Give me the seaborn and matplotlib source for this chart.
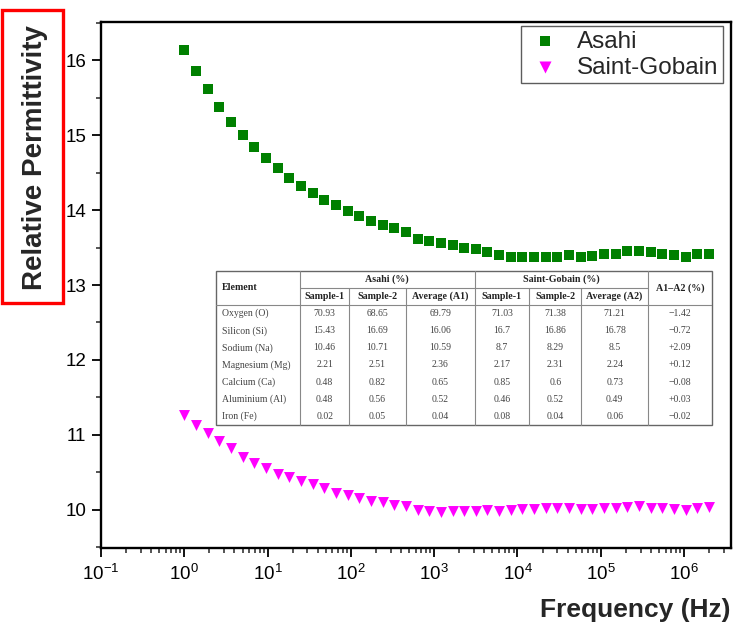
import matplotlib
matplotlib.use("Agg")
import matplotlib.pyplot as plt
import seaborn as sns
import pandas as pd
from matplotlib.patches import Rectangle
from matplotlib.ticker import LogLocator, MultipleLocator

# ---------------- data ----------------
freq_hz = [1, 1.38, 1.905, 2.63, 3.631, 5.012, 6.918, 9.55, 13.18, 18.2,
           25.12, 34.67, 47.86, 66.07, 91.2, 125.9, 173.8, 239.9, 331.1, 457.1,
           631.0, 871.0, 1202, 1660, 2291, 3162, 4365, 6026, 8318, 11482,
           15849, 21878, 30200, 41687, 57544, 79433, 109648, 151356, 208930, 288403,
           398107, 549541, 758578, 1047129, 1445440, 1995262]

asahi = [16.13, 15.85, 15.61, 15.38, 15.18, 15.00, 14.84, 14.69, 14.56, 14.43,
         14.32, 14.23, 14.14, 14.07, 13.99, 13.92, 13.86, 13.80, 13.76, 13.71,
         13.62, 13.59, 13.56, 13.53, 13.50, 13.48, 13.44, 13.40, 13.37, 13.37,
         13.37, 13.37, 13.38, 13.40, 13.37, 13.39, 13.41, 13.42, 13.45, 13.45,
         13.44, 13.42, 13.40, 13.38, 13.42, 13.42]

saint_gobain = [11.26, 11.13, 11.02, 10.92, 10.82, 10.70, 10.62, 10.56, 10.48, 10.44,
                10.38, 10.34, 10.29, 10.23, 10.20, 10.16, 10.12, 10.10, 10.07, 10.05,
                10.00, 9.98, 9.97, 9.98, 9.98, 9.99, 10.00, 9.99, 10.00, 10.01,
                10.01, 10.02, 10.02, 10.02, 10.01, 10.01, 10.02, 10.02, 10.04, 10.05,
                10.03, 10.02, 10.01, 10.00, 10.03, 10.04]

series_names = ["Asahi", "Saint-Gobain"]
series_colors = ["#008000", "#ff00ff"]

x_ticks = [0.1, 1, 10, 100, 1e3, 1e4, 1e5, 1e6]
y_ticks = [10, 11, 12, 13, 14, 15, 16]

# inset table data
elements = ["Oxygen (O)", "Silicon (Si)", "Sodium (Na)", "Magnesium (Mg)",
            "Calcium (Ca)", "Aluminium (Al)", "Iron (Fe)"]
asahi_s1 = ["70.93", "15.43", "10.46", "2.21", "0.48", "0.48", "0.02"]
asahi_s2 = ["68.65", "16.69", "10.71", "2.51", "0.82", "0.56", "0.05"]
asahi_avg = ["69.79", "16.06", "10.59", "2.36", "0.65", "0.52", "0.04"]
sg_s1 = ["71.03", "16.7", "8.7", "2.17", "0.85", "0.46", "0.08"]
sg_s2 = ["71.38", "16.86", "8.29", "2.31", "0.6", "0.52", "0.04"]
sg_avg = ["71.21", "16.78", "8.5", "2.24", "0.73", "0.49", "0.06"]
a1_a2 = ["\u22121.42", "\u22120.72", "+2.09", "+0.12", "\u22120.08", "+0.03", "\u22120.02"]
sub_headers = ["Sample-1", "Sample-2", "Average (A1)", "Sample-1", "Sample-2", "Average (A2)"]

# ---------------- style ----------------
sns.set_style("ticks")
plt.rcParams["font.family"] = ["Liberation Sans", "DejaVu Sans"]
plt.rcParams["mathtext.default"] = "regular"

W, H = 734, 623
fig = plt.figure(figsize=(W / 100, H / 100), dpi=100)
ax = fig.add_axes([101 / W, 1 - 548 / H, 630 / W, 526 / H])

df = pd.DataFrame({
    "freq": freq_hz * 2,
    "perm": asahi + saint_gobain,
    "glass": [series_names[0]] * len(asahi) + [series_names[1]] * len(saint_gobain),
})

sns.scatterplot(data=df[df.glass == series_names[0]], x="freq", y="perm",
                marker="s", color=series_colors[0], s=48, linewidth=0,
                label=series_names[0], ax=ax, zorder=3)
sns.scatterplot(data=df[df.glass == series_names[1]], x="freq", y="perm",
                marker="v", color=series_colors[1], s=62, linewidth=0,
                label=series_names[1], ax=ax, zorder=3)

ax.set_xscale("log")
ax.set_xlim(0.1, 3.66e6)
ax.set_ylim(9.49, 16.51)
ax.set_xticks(x_ticks)
ax.xaxis.set_minor_locator(LogLocator(base=10, subs=range(2, 10), numticks=30))
ax.set_yticks(y_ticks)
ax.yaxis.set_minor_locator(MultipleLocator(0.5))

for sp in ax.spines.values():
    sp.set_linewidth(1.7)
    sp.set_color("black")
ax.tick_params(axis="both", which="major", direction="out", length=6.5, width=1.3,
               labelsize=13.5, pad=4, top=False, right=False, colors="black")
ax.tick_params(axis="both", which="minor", direction="out", length=3.5, width=1.1,
               top=False, right=False)
ax.tick_params(axis="x", which="major", labelsize=13.5, pad=5)

ax.set_xlabel("Frequency (Hz)", fontsize=19, fontweight="bold", loc="right", labelpad=10)
ax.set_ylabel("Relative Permittivity", fontsize=20, fontweight="bold")
ax.yaxis.set_label_coords((48 - 101) / 630, (548 - 158) / 526)

leg = ax.legend(loc="upper right", bbox_to_anchor=(723 / W, 1 - 26 / H),
                bbox_transform=fig.transFigure, frameon=True, fancybox=False,
                edgecolor="#333333", fontsize=17.5, borderaxespad=0,
                handletextpad=0.5, borderpad=0.2, labelspacing=0.15,
                markerscale=1.1, handlelength=1.6)
leg.get_frame().set_linewidth(1.0)

# red box around the y label
fig.patches.append(Rectangle((2 / W, 1 - 303 / H), 61 / W, 293 / H,
                             transform=fig.transFigure, fill=False,
                             edgecolor="#ff0000", linewidth=2.4))

# ---------------- inset table ----------------
tx0, tx1, ty0, ty1 = 216, 712, 271, 425
tab = fig.add_axes([tx0 / W, 1 - ty1 / H, (tx1 - tx0) / W, (ty1 - ty0) / H])
tab.set_xlim(tx0, tx1)
tab.set_ylim(ty1, ty0)
tab.axis("off")
tab.add_patch(Rectangle((tx0, ty0), tx1 - tx0, ty1 - ty0, facecolor="white",
                        edgecolor="#666666", linewidth=1.0, clip_on=False))
cols = [216, 300, 349.3, 405.7, 474.7, 529.3, 581.3, 648, 712]
y_mid, y_head = 287.7, 305
lc = "#888888"
for c in [300, 474.7, 648]:
    tab.plot([c, c], [ty0, ty1], color=lc, lw=0.8, clip_on=False)
for c in [349.3, 405.7, 529.3, 581.3]:
    tab.plot([c, c], [y_mid, ty1], color=lc, lw=0.8, clip_on=False)
tab.plot([300, 648], [y_mid, y_mid], color=lc, lw=0.8)
tab.plot([tx0, tx1], [y_head, y_head], color=lc, lw=0.8)

serif = ["Liberation Serif", "DejaVu Serif"]
hk = dict(family=serif, fontsize=7.2, fontweight="bold", color="#222222", va="center")
tab.text(221.5, 288, "Element", ha="left", **hk)
tab.text((300 + 474.7) / 2, 279, "Asahi (%)", ha="center", **hk)
tab.text((474.7 + 648) / 2, 279, "Saint-Gobain (%)", ha="center", **hk)
tab.text((648 + 712) / 2, 288, "A1\u2013A2 (%)", ha="center", **hk)
for j, h in enumerate(sub_headers):
    tab.text((cols[j + 1] + cols[j + 2]) / 2, 296.5, h, ha="center", **hk)

dk = dict(family=serif, fontsize=7.0, color="#444444", va="center")
table_cols = [asahi_s1, asahi_s2, asahi_avg, sg_s1, sg_s2, sg_avg, a1_a2]
row_h = (ty1 - y_head) / len(elements)
for i, el in enumerate(elements):
    yc = y_head + (i + 0.5) * row_h
    tab.text(221.5, yc, el, ha="left", **dk)
    for j, colvals in enumerate(table_cols):
        tab.text((cols[j + 1] + cols[j + 2]) / 2, yc, colvals[i], ha="center", **dk)

fig.savefig("out.png", dpi=100)
